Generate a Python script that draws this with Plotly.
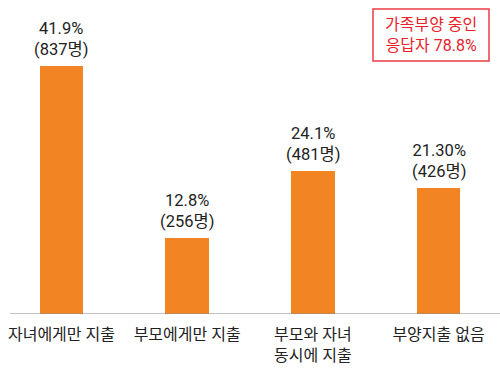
import plotly.graph_objects as go

categories = ["자녀에게만 지출", "부모에게만 지출", "부모와 자녀<br>동시에 지출", "부양지출 없음"]
percent_values = [41.9, 12.8, 24.1, 21.3]
percent_labels = ["41.9%", "12.8%", "24.1%", "21.30%"]
counts = [837, 256, 481, 426]
note_text = "가족부양 중인<br>응답자 78.8%"

FONT = "Roboto, Noto Sans CJK KR, sans-serif"
xs = list(range(len(categories)))

fig = go.Figure()
fig.add_trace(go.Bar(
    x=xs, y=percent_values, width=0.345,
    marker=dict(color="#F28424", line=dict(width=0)),
    hoverinfo="skip",
))

for x, v, pl, c in zip(xs, percent_values, percent_labels, counts):
    fig.add_annotation(
        x=x, y=v, xref="x", yref="y",
        text=f"{pl}<br>({c}명)", showarrow=False,
        yanchor="bottom", yshift=5,
        font=dict(family=FONT, size=16.5, color="#222222"),
    )

fig.add_shape(type="rect", xref="paper", yref="paper",
              x0=0.746, x1=0.978, y0=0.806, y1=0.971,
              line=dict(color="#ee3b45", width=1.5), fillcolor="white")
fig.add_annotation(
    x=0.862, y=0.888, xref="paper", yref="paper",
    xanchor="center", yanchor="middle",
    text=note_text, showarrow=False,
    font=dict(family=FONT, size=16, color="#e8222c"),
)

fig.add_shape(type="line", xref="paper", yref="y", x0=0.02, x1=1, y0=0, y1=0,
              line=dict(color="#888888", width=1.2))

fig.update_layout(
    width=500, height=370,
    margin=dict(l=0, r=0, t=0, b=56, pad=0),
    paper_bgcolor="white", plot_bgcolor="white",
    showlegend=False,
    bargap=0,
    xaxis=dict(
        range=[-0.489, 3.489], tickvals=xs, ticktext=categories,
        showgrid=False, zeroline=False, showline=False, ticks="",
        ticklabelstandoff=9,
        tickfont=dict(family=FONT, size=16, color="#222222"),
        fixedrange=True, automargin=False,
    ),
    yaxis=dict(range=[0, 53.0], visible=False, fixedrange=True, automargin=False),
)

fig.write_html("out.html", config={"displayModeBar": False},
               post_script="document.body.style.margin='0';")
